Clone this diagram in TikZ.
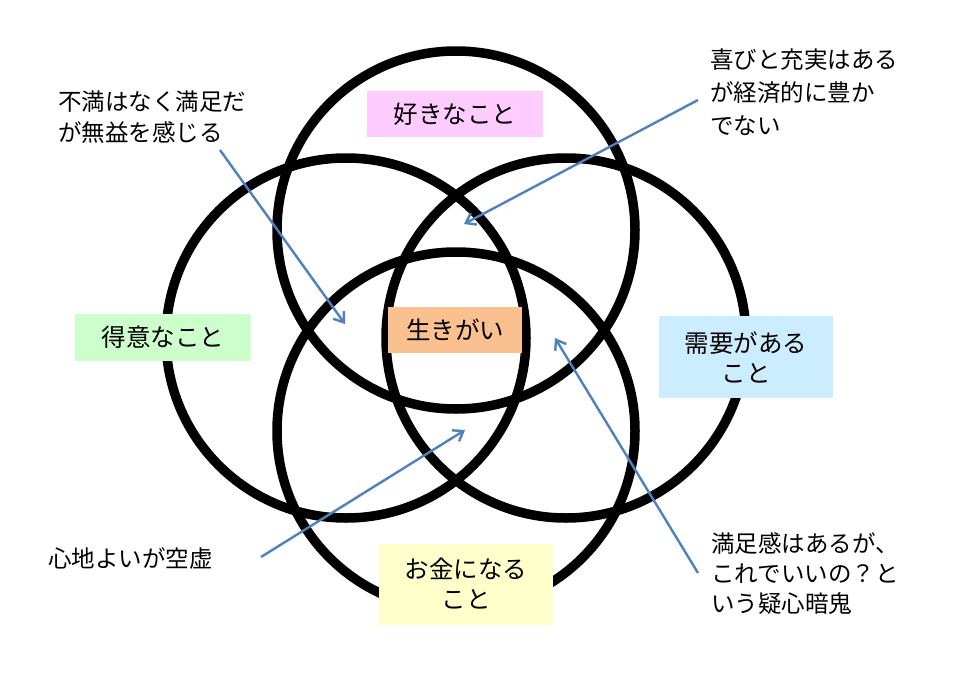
\documentclass[tikz,border=0pt]{standalone}
\usepackage{fontspec}
\setmainfont{Noto Sans CJK JP}
\usetikzlibrary{arrows.meta}
\definecolor{ringblack}{HTML}{000000}
\definecolor{arrowblue}{HTML}{4F81BD}
\definecolor{likepink}{HTML}{FFCCFF}
\definecolor{ikigaipeach}{HTML}{FAC090}
\definecolor{goodgreen}{HTML}{CCFFCC}
\definecolor{needblue}{HTML}{CCECFF}
\definecolor{moneyyellow}{HTML}{FFFFCC}
\tikzset{
  ring/.style={draw=ringblack, line width=9.5pt},
  labelbox/.style={inner sep=0pt, align=center, font=\fontsize{24.5}{30}\selectfont},
  note/.style={inner sep=0pt, align=left, anchor=base west, font=\fontsize{23.5}{31}\selectfont},
  pointer/.style={draw=arrowblue, line width=2.4pt, -{Straight Barb[length=9pt,width=13pt,line width=2.4pt]}}
}
\begin{document}
\begin{tikzpicture}[x=1pt,y=-1pt]
\useasboundingbox[fill=white] (0,0) rectangle (977,672);
% circles
\draw[ring] (456,230) circle[radius=179];
\draw[ring] (346,338) circle[radius=180];
\draw[ring] (566,338) circle[radius=180];
\draw[ring] (456,431) circle[radius=179];
% labels
\node[labelbox, fill=likepink, minimum width=176pt, minimum height=46pt] (like) at (455,114) {好きなこと};
\node[labelbox, fill=ikigaipeach, minimum width=134pt, minimum height=46pt] (ikigai) at (455,330) {生きがい};
\node[labelbox, fill=goodgreen, minimum width=176pt, minimum height=47pt] (good) at (163,337.5) {得意なこと};
\node[labelbox, fill=needblue, minimum width=174pt, minimum height=82pt, text depth=0pt] (need) at (746,357) {需要がある\\こと};
\node[labelbox, fill=moneyyellow, minimum width=174pt, minimum height=81pt] (money) at (466,584) {お金になる\\こと};
% annotations (base = last line baseline)
\node[note] (n1) at (58,141) {不満はなく満足だ\\が無益を感じる};
\node[note, font=\fontsize{23.5}{33}\selectfont] (n2) at (710,134) {喜びと充実はある\\が経済的に豊か\\でない};
\node[note] (n3) at (48,567) {心地よいが空虚};
\node[note, font=\fontsize{23.5}{30}\selectfont] (n4) at (711,612) {満足感はあるが、\\これでいいの？と\\いう疑心暗鬼};
% arrow endpoints
\coordinate (a1s) at (220,150);
\coordinate (a1e) at (345,324);
\coordinate (a2s) at (698,100);
\coordinate (a2e) at (464,224);
\coordinate (a3s) at (261,557);
\coordinate (a3e) at (465,430);
\coordinate (a4s) at (698,573);
\coordinate (a4e) at (555,338);
\draw[pointer] (a1s) -- (a1e);
\draw[pointer] (a2s) -- (a2e);
\draw[pointer] (a3s) -- (a3e);
\draw[pointer] (a4s) -- (a4e);
\end{tikzpicture}
\end{document}
